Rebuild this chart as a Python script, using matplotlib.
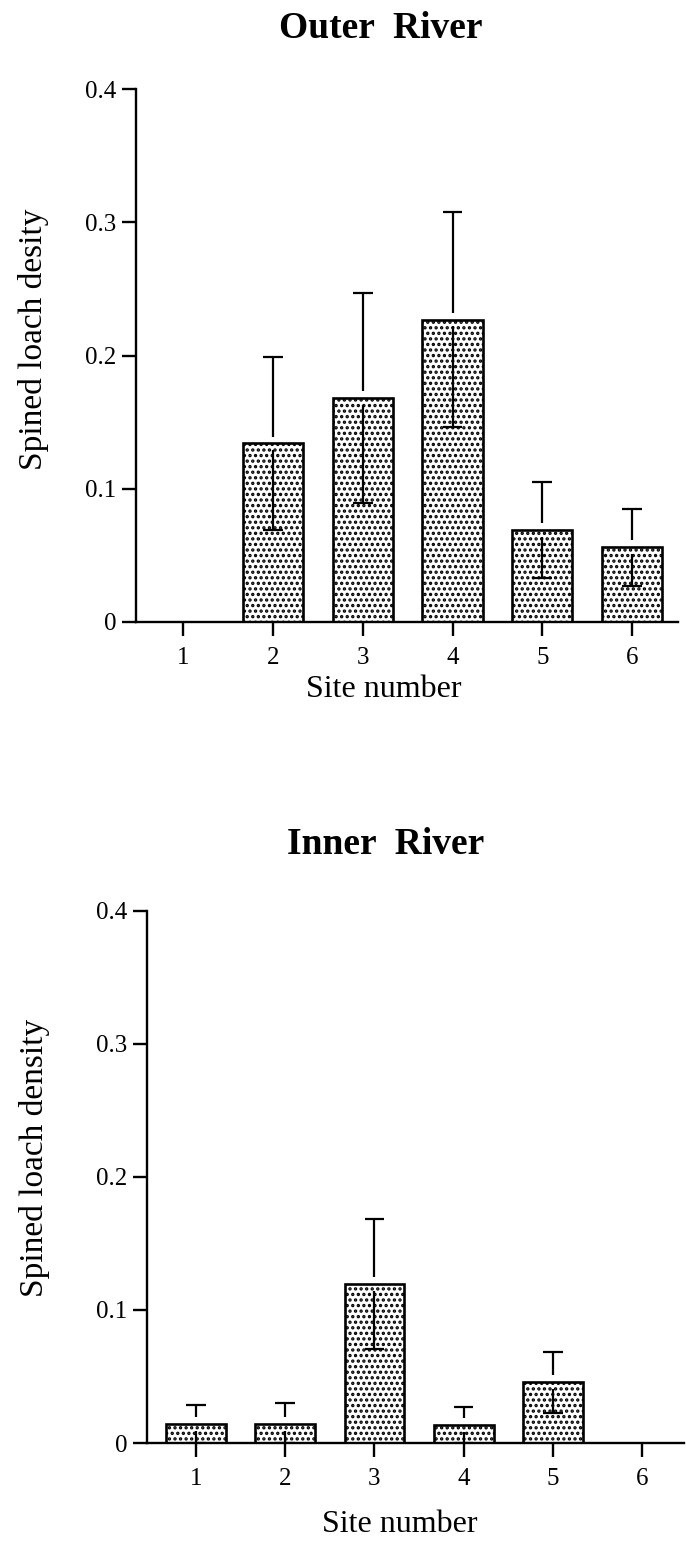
import numpy as np
import matplotlib
matplotlib.use("Agg")
import matplotlib.pyplot as plt

plt.rcParams['font.family'] = ['Liberation Serif', 'DejaVu Serif']
plt.rcParams['hatch.linewidth'] = 1.6
plt.rcParams['hatch.color'] = 'black'

# ---- data ----
sites = [1, 2, 3, 4, 5, 6]
site_labels = ['1', '2', '3', '4', '5', '6']

outer_density = [0.0, 0.134, 0.168, 0.227, 0.069, 0.056]
outer_se = [0.0, 0.065, 0.079, 0.081, 0.036, 0.029]

inner_density = [0.014, 0.0145, 0.1195, 0.0135, 0.0456, 0.0]
inner_se = [0.0146, 0.0153, 0.049, 0.0138, 0.0228, 0.0]

y_ticks = [0, 0.1, 0.2, 0.3, 0.4]
y_tick_labels = ['0', '0.1', '0.2', '0.3', '0.4']

W, H, DPI = 686, 1547, 100
fig = plt.figure(figsize=(W / DPI, H / DPI), dpi=DPI)

BAR_W = 0.67
GAP = 0.0052      # white gap between bar top and error stems
CAP = 0.11        # half-width of error caps (in site units)
LW = 1.7


def panel(rect, title, ylabel, values, errs, xlim, title_xy, ylab_xy, xlab_xy):
    ax = fig.add_axes(rect)
    x = np.array(sites, dtype=float)
    v = np.array(values)
    e = np.array(errs)
    ax.bar(x, v, width=BAR_W, facecolor='white', edgecolor='black',
           linewidth=1.9, hatch='...', zorder=2)
    has = e > 0
    xs, vs, es = x[has], v[has], e[has]
    # upper stem + cap
    ax.vlines(xs, vs + GAP, vs + es, color='black', lw=1.6, zorder=3)
    ax.hlines(vs + es, xs - CAP, xs + CAP, color='black', lw=1.6, zorder=3)
    # lower stem + cap, inside the bar
    lo = np.clip(vs - es, 0, None)
    ax.vlines(xs, lo, vs - GAP, color='black', lw=1.6, zorder=3)
    ax.hlines(lo, xs - CAP, xs + CAP, color='black', lw=1.6, zorder=3)

    ax.set_xlim(*xlim)
    ax.set_ylim(0, 0.4)
    ax.set_xticks(sites)
    ax.set_xticklabels(site_labels)
    ax.set_yticks(y_ticks)
    ax.set_yticklabels(y_tick_labels)
    for s in ('top', 'right'):
        ax.spines[s].set_visible(False)
    for s in ('left', 'bottom'):
        ax.spines[s].set_linewidth(LW)
        ax.spines[s].set_zorder(4)
    ax.tick_params(axis='both', direction='out', length=10, width=LW,
                   labelsize=18)
    ax.tick_params(axis='x', pad=8)
    ax.tick_params(axis='y', pad=4)
    ax.set_facecolor('none')

    ax.set_title(title, fontsize=27, fontweight='bold', x=title_xy[0],
                 y=title_xy[1], va='baseline')
    ax.set_ylabel(ylabel, fontsize=24)
    ax.yaxis.set_label_coords(*ylab_xy)
    ax.yaxis.label.set_va('center')
    ax.set_xlabel('Site number', fontsize=23)
    ax.xaxis.set_label_coords(*xlab_xy)
    ax.xaxis.label.set_va('baseline')
    return ax


panel([136 / W, 1 - 622 / H, 542 / W, 533 / H], 'Outer  River',
      'Spined loach desity', outer_density, outer_se,
      (0.476, 6.51), (0.452, 1.0807), (-0.19, 0.53), (0.458, -0.14))

panel([147 / W, 1 - 1443 / H, 537 / W, 532.3 / H], 'Inner  River',
      'Spined loach density', inner_density, inner_se,
      (0.451, 6.47), (0.445, 1.0915), (-0.21, 0.535), (0.47, -0.167))

fig.savefig('out.png', dpi=DPI, facecolor='white')
